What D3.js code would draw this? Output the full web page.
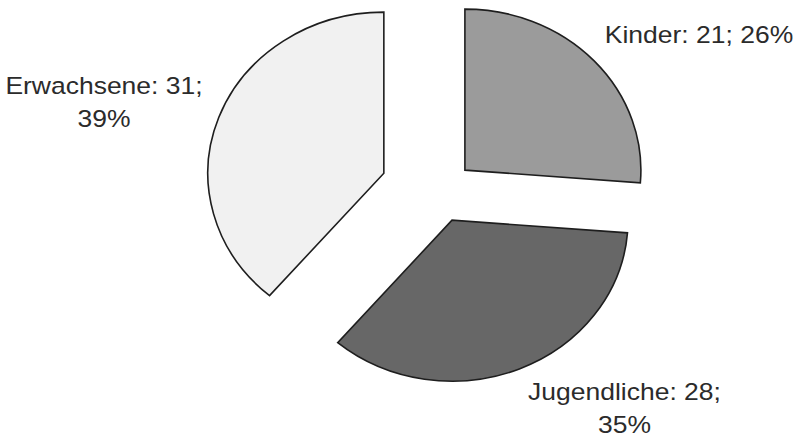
<!DOCTYPE html>
<html>
<head>
<meta charset="utf-8">
<script src="https://cdn.jsdelivr.net/npm/d3@7"></script>
<style>
  html, body { margin: 0; padding: 0; background: #fff; }
  svg { display: block; }
</style>
</head>
<body>
<script>
// Altersgruppen und Anzahl
const categories = ["Kinder", "Jugendliche", "Erwachsene"];
const values = [21, 28, 31];

// Darstellung je Segment
const fills = ["#9b9b9b", "#676767", "#f1f1f1"];
const explode = [35, 33.5, 59];          // Herausrücken der Segmente (px)
const labelPos = [                       // Beschriftungsanker, [x, y Grundlinie]
  { x: 699, y: 47,  lines: 1 },
  { x: 624.5, y: 437, lines: 2 },
  { x: 104, y: 102.7, lines: 2 }
];

const W = 801, H = 436;
const yScale = 0.915;                    // leicht gestauchte Darstellung
const cx = 439.2, cy = 209.7, R = 176;

const svg = d3.select("body").append("svg")
  .attr("width", W).attr("height", H);

const g = svg.append("g").attr("transform", `scale(1,${yScale})`);

const total = d3.sum(values);
const pie = d3.pie().sort(null).value(d => d)(values);
const arc = d3.arc().innerRadius(0).outerRadius(R);

g.selectAll("path.slice")
  .data(pie)
  .join("path")
  .attr("class", "slice")
  .attr("d", arc)
  .attr("transform", (d, i) => {
    const a = (d.startAngle + d.endAngle) / 2;
    const dx = Math.sin(a) * explode[i], dy = -Math.cos(a) * explode[i];
    return `translate(${cx + dx},${cy + dy})`;
  })
  .attr("fill", (d, i) => fills[i])
  .attr("stroke", "#1e1e1e")
  .attr("stroke-width", 1.6)
  .attr("vector-effect", "non-scaling-stroke")
  .attr("stroke-linejoin", "miter");

// Beschriftungen: "Kategorie: Wert; Prozent"
const lineGap = 35.7;
pie.forEach((d, i) => {
  const pct = Math.round(values[i] / total * 100) + "%";
  const head = `${categories[i]}: ${values[i]};`;
  const p = labelPos[i];
  const t = g.append("text")
    .attr("x", p.x).attr("y", p.y)
    .attr("text-anchor", "middle")
    .attr("font-family", "'Liberation Sans', Arial, sans-serif")
    .attr("font-size", 26.5)
    .attr("fill", "#2b2b2b");
  if (p.lines === 1) {
    t.text(`${head} ${pct}`);
  } else {
    t.append("tspan").attr("x", p.x).attr("dy", 0).text(head);
    t.append("tspan").attr("x", p.x).attr("dy", lineGap).text(pct);
  }
});
</script>
</body>
</html>
